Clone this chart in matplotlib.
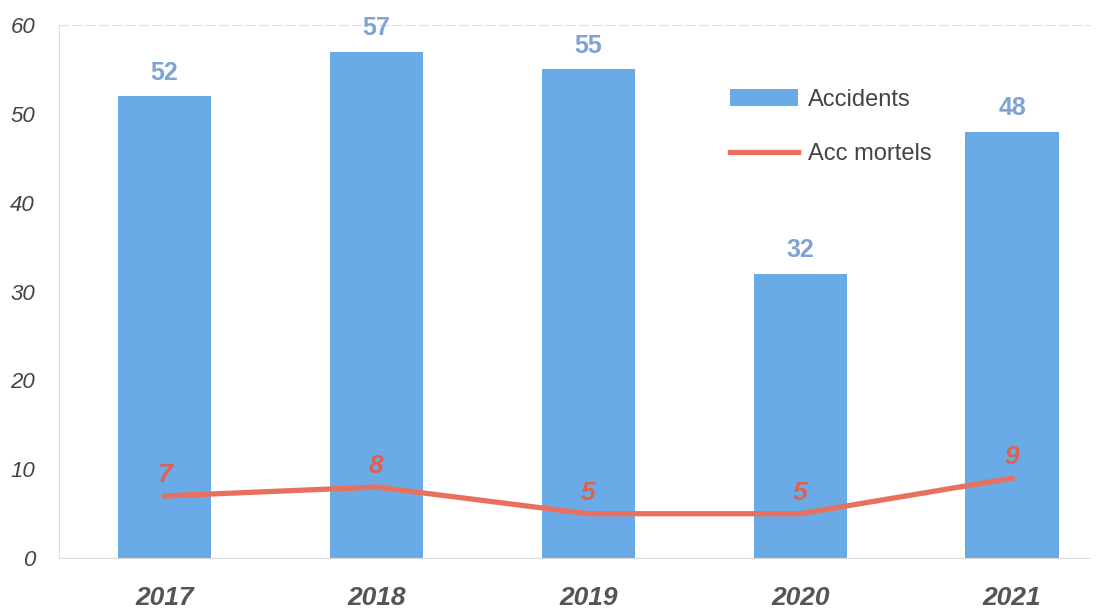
import matplotlib.pyplot as plt
import numpy as np

plt.rcParams["font.family"] = ["Liberation Sans", "DejaVu Sans"]

# Data
years = ["2017", "2018", "2019", "2020", "2021"]
accidents = [52, 57, 55, 32, 48]
acc_mortels = [7, 8, 5, 5, 9]

bar_color = "#6aaae6"
line_color = "#e8705f"

fig = plt.figure(figsize=(11.07, 6.1), dpi=100)
ax = fig.add_axes([0.053, 0.085, 0.932, 0.874])

x = np.arange(len(years))
bars = ax.bar(x, accidents, width=0.44, color=bar_color, label="Accidents", zorder=2)
line, = ax.plot(x, acc_mortels, color=line_color, linewidth=3.8, label="Acc mortels", zorder=3)

# Value labels
for xi, v in zip(x, accidents):
    ax.text(xi, v + 1.3, str(v), ha="center", va="bottom", fontsize=18,
            fontweight="bold", color="#7fa3d4")
for xi, v in zip(x, acc_mortels):
    ax.text(xi, v + 1.0, str(v), ha="center", va="bottom", fontsize=19,
            fontweight="bold", fontstyle="italic", color="#e0604f")

ax.set_xlim(-0.5, 4.37)
ax.set_ylim(0, 60)
ax.set_yticks([0, 10, 20, 30, 40, 50, 60])
ax.set_xticks(x)
ax.set_xticklabels(years, fontsize=19, fontweight="bold", fontstyle="italic", color="#555555")
for lbl in ax.get_yticklabels():
    lbl.set_fontsize(16)
    lbl.set_fontstyle("italic")
    lbl.set_color("#444444")
ax.tick_params(axis="both", length=0)
ax.tick_params(axis="x", pad=20)
ax.tick_params(axis="y", pad=17)

for side in ["left", "top", "bottom"]:
    ax.spines[side].set_color("#dddddd")
    ax.spines[side].set_linewidth(0.8)
ax.spines["top"].set_linestyle((0, (8, 4)))
ax.spines["right"].set_visible(False)

ax.legend([bars, line], ["Accidents", "Acc mortels"], loc="upper left",
          bbox_to_anchor=(0.63, 0.92), frameon=False, fontsize=17,
          handlelength=2.9, handleheight=0.7, handletextpad=0.4,
          labelspacing=1.35, labelcolor="#444444")

fig.savefig("out.png", dpi=100)
